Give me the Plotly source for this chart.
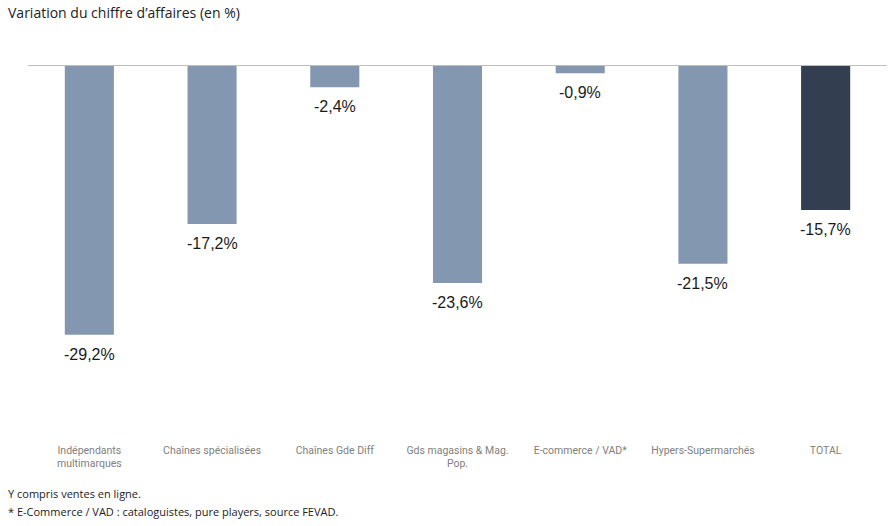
import plotly.graph_objects as go

categories = ["Indépendants<br>multimarques", "Chaînes spécialisées", "Chaînes Gde Diff",
              "Gds magasins & Mag.<br>Pop.", "E-commerce / VAD*", "Hypers-Supermarchés", "TOTAL"]
values = [-29.2, -17.2, -2.4, -23.6, -0.9, -21.5, -15.7]
labels = [f"{v:.1f}%".replace(".", ",") for v in values]
colors = ["#8497B0"] * 6 + ["#333F50"]

fig = go.Figure(go.Bar(
    x=categories, y=values,
    marker=dict(color=colors, line=dict(width=0)), width=0.4,
    hoverinfo="skip",
))

value_annotations = [
    dict(x=c, y=v, xref="x", yref="y", text=t, showarrow=False, yanchor="top",
         yshift=-9, font=dict(size=16, color="#1a1a1a", family="Liberation Sans"))
    for c, v, t in zip(categories, values, labels)
]

fig.update_layout(
    width=895, height=526,
    margin=dict(l=28, r=8, t=65, b=84),
    plot_bgcolor="white", paper_bgcolor="white",
    showlegend=False,
    xaxis=dict(showgrid=False, showline=False, ticks="", tickangle=0,
               tickfont=dict(size=10.5, color="#808080", family="Roboto")),
    yaxis=dict(range=[-40.8, 0], showgrid=False, showticklabels=False, zeroline=False, showline=False),
    shapes=[dict(type="line", xref="paper", yref="y", x0=0, x1=1, y0=0, y1=0,
                 line=dict(color="#BFBFBF", width=2))],
    annotations=value_annotations + [
        dict(text="Variation du chiffre d’affaires (en %)", xref="paper", yref="paper",
             x=0, y=1, xanchor="left", yanchor="middle", showarrow=False,
             xshift=-22, yshift=53, font=dict(size=14, color="#222", family="Open Sans")),
        dict(text="Y compris ventes en ligne.", xref="paper", yref="paper",
             x=0, y=0, xanchor="left", yanchor="middle", showarrow=False,
             xshift=-22, yshift=-51, font=dict(size=11, color="#222", family="Open Sans")),
        dict(text="* E-Commerce / VAD : cataloguistes, pure players, source FEVAD.", xref="paper", yref="paper",
             x=0, y=0, xanchor="left", yanchor="middle", showarrow=False,
             xshift=-22, yshift=-69, font=dict(size=11, color="#222", family="Open Sans")),
    ],
)

fig.write_html("out.html", config={"displayModeBar": False},
               post_script="document.body.style.margin='0';")
